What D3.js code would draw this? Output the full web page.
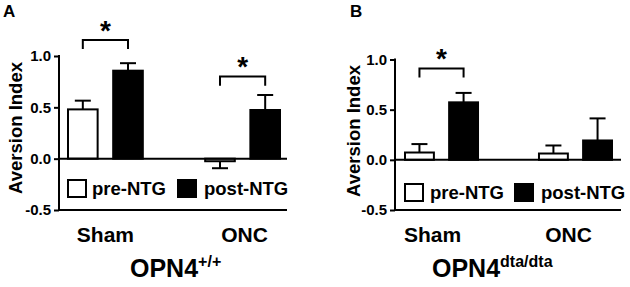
<!DOCTYPE html>
<html><head><meta charset="utf-8">
<script src="https://cdn.jsdelivr.net/npm/d3@7"></script>
<style>
html,body{margin:0;padding:0;background:#fff;}
svg{display:block;font-family:"Liberation Sans",Arial,sans-serif;font-weight:bold;}
</style></head>
<body>
<script>
// ---- data ----
const categories = ["Sham", "ONC"];
const seriesNames = ["pre-NTG", "post-NTG"];
const yTickValues = [-0.5, 0, 0.5, 1.0];
const yTickLabels = ["-0.5", "0.0", "0.5", "1.0"];
const yLabel = "Aversion Index";

// Panel A: OPN4+/+
const aPre = [0.48, -0.025];
const aPreErr = [0.085, 0.068];
const aPost = [0.857, 0.474];
const aPostErr = [0.073, 0.146];
// Panel B: OPN4dta/dta
const bPre = [0.073, 0.063];
const bPreErr = [0.084, 0.08];
const bPost = [0.573, 0.193];
const bPostErr = [0.094, 0.22];

// significance brackets: [category, bracket level, leg level]
const aSig = [["Sham", 1.156, 1.068], ["ONC", 0.80, 0.71]];
const bSig = [["Sham", 0.91, 0.82]];

const panelLetters = ["A", "B"];
const titleMain = ["OPN4", "OPN4"];
const titleSup = ["+/+", "dta/dta"];

// ---- layout ----
const W = 630, H = 287;
const svg = d3.select("body").append("svg").attr("width", W).attr("height", H);

const panels = [
  {letter: panelLetters[0], pre: aPre, preErr: aPreErr, post: aPost, postErr: aPostErr, sig: aSig,
   title: titleMain[0], sup: titleSup[0],
   axisX: 59, xEnd: 287, groupRange: [67, 281], yRange: [210, 56],
   letterPos: [3, 17], ylabPos: [22, 128], catDx: [0, 2], catY: 242,
   titleX: 130, titleY: 277, legY: 180, legX: [68, 92, 178, 204]},
  {letter: panelLetters[1], pre: bPre, preErr: bPreErr, post: bPost, postErr: bPostErr, sig: bSig,
   title: titleMain[1], sup: titleSup[1],
   axisX: 395, xEnd: 621, groupRange: [404, 613], yRange: [210, 59.5],
   letterPos: [350, 17], ylabPos: [360, 131], catDx: [-9, -7], catY: 242,
   titleX: 432, titleY: 277, legY: 184, legX: [405, 430, 515, 541]}
];

panels.forEach(p => {
  const g = svg.append("g");
  const y = d3.scaleLinear().domain([-0.5, 1.0]).range(p.yRange);
  const x0 = d3.scaleBand().domain(categories).range(p.groupRange).paddingInner(0.44).paddingOuter(0);
  const x1 = d3.scaleBand().domain(seriesNames).range([0, x0.bandwidth()]).paddingInner(0.3).paddingOuter(0);

  // panel letter
  g.append("text").attr("x", p.letterPos[0]).attr("y", p.letterPos[1])
    .attr("font-size", 17).text(p.letter);

  // bars
  const rows = categories.map((c, i) => [
    {cat: c, s: seriesNames[0], v: p.pre[i], e: p.preErr[i]},
    {cat: c, s: seriesNames[1], v: p.post[i], e: p.postErr[i]}
  ]).flat();

  // error bars (drawn first so bars cover their base)
  rows.forEach(r => {
    const cx = x0(r.cat) + x1(r.s) + x1.bandwidth() / 2;
    const dir = r.v >= 0 ? 1 : -1;
    const yEnd = y(r.v + dir * r.e);
    g.append("line").attr("x1", cx).attr("x2", cx).attr("y1", y(r.v)).attr("y2", yEnd)
      .attr("stroke", "#000").attr("stroke-width", 2);
    g.append("line").attr("x1", cx - 8).attr("x2", cx + 8).attr("y1", yEnd).attr("y2", yEnd)
      .attr("stroke", "#000").attr("stroke-width", 2);
  });
  rows.forEach(r => {
    const bx = x0(r.cat) + x1(r.s);
    g.append("rect").attr("x", bx + 1).attr("width", x1.bandwidth() - 2)
      .attr("y", Math.min(y(r.v), y(0))).attr("height", Math.abs(y(r.v) - y(0)))
      .attr("fill", r.s === seriesNames[0] ? "#fff" : "#000")
      .attr("stroke", "#000").attr("stroke-width", 2);
  });

  // axes
  const yAxis = d3.axisLeft(y).tickValues(yTickValues).tickFormat((d, i) => yTickLabels[i])
    .tickSize(5).tickPadding(3);
  const ag = g.append("g").attr("transform", `translate(${p.axisX},0)`).call(yAxis);
  ag.select(".domain").remove();
  ag.selectAll(".tick line").attr("stroke", "#000").attr("stroke-width", 2);
  ag.selectAll(".tick text").attr("font-size", 15).attr("font-family", "Liberation Sans, Arial, sans-serif")
    .attr("font-weight", "bold").attr("fill", "#000");
  g.append("line").attr("x1", p.axisX).attr("x2", p.axisX).attr("y1", y(1.0) - 1).attr("y2", y(-0.5) + 1)
    .attr("stroke", "#000").attr("stroke-width", 2);
  [0, -0.5].forEach(v => {
    g.append("line").attr("x1", p.axisX).attr("x2", p.xEnd).attr("y1", y(v)).attr("y2", y(v))
      .attr("stroke", "#000").attr("stroke-width", 2);
  });

  // y label
  g.append("text").attr("transform", `translate(${p.ylabPos[0]},${p.ylabPos[1]}) rotate(-90)`)
    .attr("text-anchor", "middle").attr("font-size", 18.5).text(yLabel);

  // category labels
  categories.forEach((c, i) => {
    g.append("text").attr("x", x0(c) + x0.bandwidth() / 2 + p.catDx[i]).attr("y", p.catY)
      .attr("text-anchor", "middle").attr("font-size", 21).text(c);
  });

  // title
  const t = g.append("text").attr("x", p.titleX).attr("y", p.titleY).attr("font-size", 25);
  t.append("tspan").text(p.title);
  t.append("tspan").attr("font-size", 16).attr("dy", -10).text(p.sup);

  // legend
  const lx = p.legX;
  g.append("rect").attr("x", lx[0]).attr("y", p.legY).attr("width", 18).attr("height", 17)
    .attr("fill", "#fff").attr("stroke", "#000").attr("stroke-width", 2);
  g.append("text").attr("x", lx[1]).attr("y", p.legY + 15).attr("font-size", 18.5).text(seriesNames[0]);
  g.append("rect").attr("x", lx[2]).attr("y", p.legY).attr("width", 18).attr("height", 17)
    .attr("fill", "#000").attr("stroke", "#000").attr("stroke-width", 2);
  g.append("text").attr("x", lx[3]).attr("y", p.legY + 15).attr("font-size", 18.5).text(seriesNames[1]);

  // significance
  p.sig.forEach(([c, lev, leg]) => {
    const xa = x0(c) + x1(seriesNames[0]) + x1.bandwidth() / 2;
    const xb = x0(c) + x1(seriesNames[1]) + x1.bandwidth() / 2;
    g.append("path").attr("d", `M${xa},${y(leg)}V${y(lev)}H${xb}V${y(leg)}`)
      .attr("fill", "none").attr("stroke", "#000").attr("stroke-width", 2);
    g.append("text").attr("x", (xa + xb) / 2).attr("y", y(lev) + 15).attr("text-anchor", "middle")
      .attr("dy", "-0.55em").attr("font-size", 28).text("*");
  });
});
</script>
</body></html>
